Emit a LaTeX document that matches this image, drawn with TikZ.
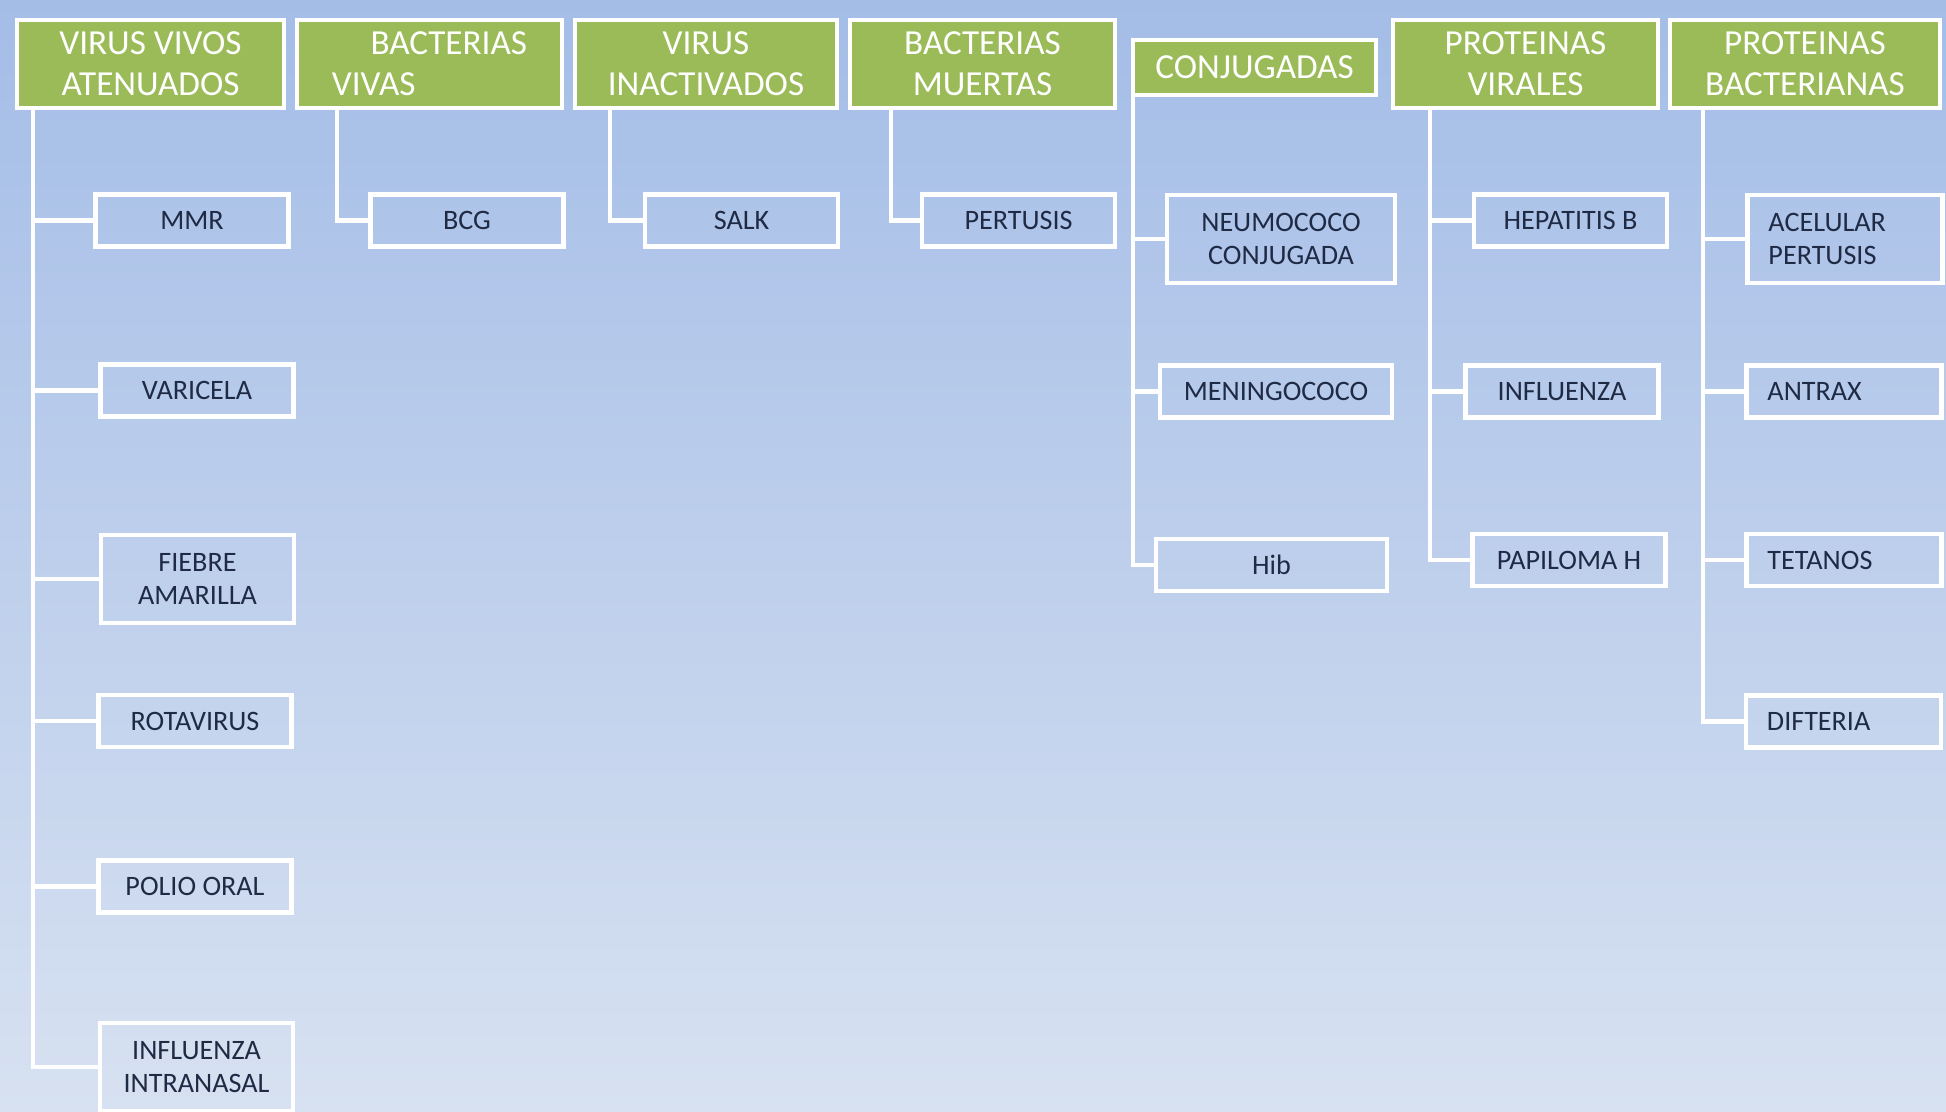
\documentclass[tikz,border=0pt]{standalone}
\usepackage{fontspec}
\setmainfont{Carlito}
\usetikzlibrary{positioning}
\definecolor{HeadGreen}{HTML}{9BBB59}
\definecolor{BgTop}{HTML}{A4BDE7}
\definecolor{BgBottom}{HTML}{D7E1F1}
\definecolor{BoxText}{HTML}{1F2A44}
\tikzset{
    % Category boxes
    header/.style={
        rectangle,
        draw=white,
        fill=HeadGreen,
        line width=1.3pt,
        minimum width=2.65cm,
        minimum height=0.88cm,
        inner sep=0pt,
        align=center,
        text=white,
        font=\fontsize{10}{11.7}\selectfont
    },
    % Vaccine boxes
    vaccine/.style={
        rectangle,
        draw=white,
        line width=1.3pt,
        minimum width=1.93cm,
        minimum height=0.52cm,
        inner sep=0pt,
        align=center,
        text=BoxText,
        font=\fontsize{8}{9.4}\selectfont
    },
    tallvaccine/.style={
        vaccine,
        minimum height=0.88cm
    },
    leftvaccine/.style={
        vaccine,
        align=left,
        text width=1.53cm,
        inner xsep=0.21cm
    },
    % Tree lines
    link/.style={
        draw=white,
        line width=1.3pt
    }
}

\begin{document}
\begin{tikzpicture}[x=0.01cm, y=-0.01cm]
    \useasboundingbox (0,0) rectangle (1946,1111);
    \fill[top color=BgTop, bottom color=BgBottom] (0,0) rectangle (1946,1111);

    % headers
    \node[header, minimum width=2.67cm] (vivos) at (150.5,64) {VIRUS VIVOS\\ATENUADOS};
    \node[header, align=left] (bactvivas) at (429.5,64) {\hspace*{1.1em}BACTERIAS\\VIVAS};
    \node[header, minimum width=2.62cm] (inact) at (706,64) {VIRUS\\INACTIVADOS};
    \node[header] (muertas) at (982.5,64) {BACTERIAS\\MUERTAS};
    \node[header, minimum width=2.43cm, minimum height=0.55cm] (conj) at (1254.5,67.5) {CONJUGADAS};
    \node[header] (virales) at (1525.5,64) {PROTEINAS\\VIRALES};
    \node[header, minimum width=2.70cm] (bacter) at (1805,64) {PROTEINAS\\BACTERIANAS};

    % trunk positions
    \coordinate (t1) at (33,0);
    \coordinate (t2) at (337,0);
    \coordinate (t3) at (610,0);
    \coordinate (t4) at (891,0);
    \coordinate (t5) at (1133,0);
    \coordinate (t6) at (1430,0);
    \coordinate (t7) at (1703,0);

    % virus vivos atenuados
    \node[vaccine] (mmr) at (192,220.5) {MMR};
    \node[vaccine] (varicela) at (197,390.5) {VARICELA};
    \node[tallvaccine] (fiebre) at (197.5,579) {FIEBRE\\AMARILLA};
    \node[vaccine] (rota) at (195,721) {ROTAVIRUS};
    \node[vaccine] (polio) at (195,886.5) {POLIO ORAL};
    \node[tallvaccine] (intranasal) at (196.5,1067) {INFLUENZA\\INTRANASAL};

    % bacterias vivas, inactivados, muertas
    \node[vaccine] (bcg) at (467,220.5) {BCG};
    \node[vaccine] (salk) at (741.5,220.5) {SALK};
    \node[vaccine] (pertusis) at (1018.5,220.5) {PERTUSIS};

    % conjugadas
    \node[tallvaccine, minimum width=2.28cm] (neumo) at (1281,239) {NEUMOCOCO\\CONJUGADA};
    \node[vaccine, minimum width=2.32cm] (meningo) at (1276,391.5) {MENINGOCOCO};
    \node[vaccine, minimum width=2.31cm] (hib) at (1271.5,565) {Hib};

    % proteinas virales
    \node[vaccine] (hepb) at (1570.5,220.5) {HEPATITIS B};
    \node[vaccine] (influenza) at (1562,391.5) {INFLUENZA};
    \node[vaccine] (papiloma) at (1569,560) {PAPILOMA H};

    % proteinas bacterianas
    \node[leftvaccine, minimum height=0.88cm] (acelular) at (1845,239) {ACELULAR\\PERTUSIS};
    \node[leftvaccine] (antrax) at (1844,391.5) {ANTRAX};
    \node[leftvaccine] (tetanos) at (1844,560) {TETANOS};
    \node[leftvaccine] (difteria) at (1843.5,721.5) {DIFTERIA};

    % connectors
    \draw[link] (vivos.south -| t1) |- (mmr.west);
    \draw[link] (vivos.south -| t1) |- (varicela.west);
    \draw[link] (vivos.south -| t1) |- (fiebre.west);
    \draw[link] (vivos.south -| t1) |- (rota.west);
    \draw[link] (vivos.south -| t1) |- (polio.west);
    \draw[link] (vivos.south -| t1) |- (intranasal.west);

    \draw[link] (bactvivas.south -| t2) |- (bcg.west);
    \draw[link] (inact.south -| t3) |- (salk.west);
    \draw[link] (muertas.south -| t4) |- (pertusis.west);

    \draw[link] (conj.south -| t5) |- (neumo.west);
    \draw[link] (conj.south -| t5) |- (meningo.west);
    \draw[link] (conj.south -| t5) |- (hib.west);

    \draw[link] (virales.south -| t6) |- (hepb.west);
    \draw[link] (virales.south -| t6) |- (influenza.west);
    \draw[link] (virales.south -| t6) |- (papiloma.west);

    \draw[link] (bacter.south -| t7) |- (acelular.west);
    \draw[link] (bacter.south -| t7) |- (antrax.west);
    \draw[link] (bacter.south -| t7) |- (tetanos.west);
    \draw[link] (bacter.south -| t7) |- (difteria.west);
\end{tikzpicture}
\end{document}
